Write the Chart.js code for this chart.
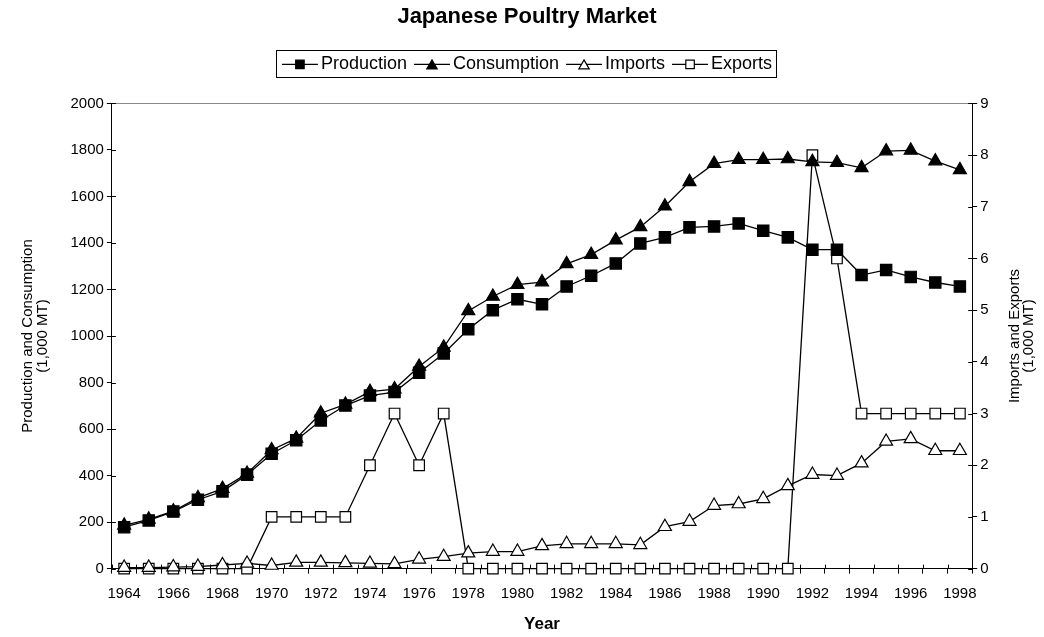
<!DOCTYPE html>
<html>
<head>
<meta charset="utf-8">
<script src="https://cdn.jsdelivr.net/npm/chart.js@4.4.1/dist/chart.umd.min.js"></script>
<style>
  html, body { margin: 0; padding: 0; background: #fff; }
  #wrap { width: 1044px; height: 637px; }
</style>
</head>
<body>
<div id="wrap"><canvas id="chart"></canvas></div>
<script>
const years = ["1964","1965","1966","1967","1968","1969","1970","1971","1972","1973",
  "1974","1975","1976","1977","1978","1979","1980","1981","1982","1983","1984","1985",
  "1986","1987","1988","1989","1990","1991","1992","1993","1994","1995","1996","1997","1998"];

// 1,000 MT, left axis
const production = [178,207,245,296,332,404,494,552,637,701,744,759,842,925,1029,1111,
  1158,1136,1213,1259,1312,1398,1424,1467,1471,1484,1453,1424,1371,1371,1262,1284,1254,1230,1213];
const consumption = [186,212,247,304,344,409,510,560,668,706,761,772,869,951,1108,1170,
  1221,1232,1310,1350,1412,1469,1558,1663,1741,1758,1758,1761,1749,1745,1723,1795,1798,1752,1714];

// 1,000 MT, right axis
const imports = [0.02,0.02,0.03,0.04,0.07,0.1,0.06,0.12,0.12,0.11,0.1,0.09,0.18,0.23,0.3,0.33,
  0.33,0.44,0.48,0.48,0.48,0.46,0.81,0.91,1.22,1.25,1.35,1.6,1.82,1.8,2.04,2.46,2.51,2.28,2.28];
const exports = [0,0,0,0,0,0,1,1,1,1,2,3,2,3,0,0,0,0,0,0,0,0,0,0,0,0,0,0,8,6,3,3,3,3,3];

const leftAxis = { min: 0, max: 2000, step: 200 };
const rightAxis = { min: 0, max: 9, step: 1 };
const leftTitle = ["Production and Consumption", "(1,000 MT)"];
const rightTitle = ["Imports and Exports", "(1,000 MT)"];

const FONT = '"Liberation Sans", Arial, sans-serif';
const axisTitleFont = { family: FONT, size: 15, lineHeight: 0.95 };

function marker(ctx, style, filled, x, y, r) {
  ctx.beginPath();
  if (style === "rect") {
    const s = Math.SQRT1_2 * r;
    ctx.rect(x - s, y - s, 2 * s, 2 * s);
  } else {
    ctx.moveTo(x, y - r);
    ctx.lineTo(x + Math.sin(2 * Math.PI / 3) * r, y + r / 2);
    ctx.lineTo(x - Math.sin(2 * Math.PI / 3) * r, y + r / 2);
    ctx.closePath();
  }
  ctx.fillStyle = filled ? "#000" : "#fff";
  ctx.fill();
  ctx.lineWidth = 1.2;
  ctx.strokeStyle = "#000";
  ctx.stroke();
}

const extras = {
  id: "extras",
  beforeLayout(chart) {
    const lg = chart.legend;
    if (lg && !lg._patched) {
      const fit = lg.fit;
      lg.fit = function () { fit.call(this); this.height += 20; };
      lg._patched = true;
    }
  },
  afterDraw(chart) {
    const ctx = chart.ctx;
    const area = chart.chartArea;
    ctx.save();
    ctx.strokeStyle = "#000";
    ctx.lineWidth = 1;
    // inner half of the cross tick marks
    const x = chart.scales.x;
    const step = x.getPixelForValue(1) - x.getPixelForValue(0);
    for (let i = 0; i <= years.length; i++) {
      const px = Math.round(x.getPixelForValue(i) - step / 2) + 0.5;
      ctx.beginPath(); ctx.moveTo(px, area.bottom); ctx.lineTo(px, area.bottom - 4); ctx.stroke();
    }
    chart.scales.y.ticks.forEach((t, i) => {
      const py = Math.round(chart.scales.y.getPixelForTick(i)) + 0.5;
      ctx.beginPath(); ctx.moveTo(area.left, py); ctx.lineTo(area.left + 4, py); ctx.stroke();
    });
    chart.scales.y2.ticks.forEach((t, i) => {
      const py = Math.round(chart.scales.y2.getPixelForTick(i)) + 0.5;
      ctx.beginPath(); ctx.moveTo(area.right, py); ctx.lineTo(area.right - 4, py); ctx.stroke();
    });

    const lg = chart.legend;
    const boxes = lg.legendHitBoxes;
    if (boxes && boxes.length) {
      // legend frame
      let l = Infinity, r = -Infinity, t = Infinity, b = -Infinity;
      boxes.forEach(h => {
        l = Math.min(l, h.left); r = Math.max(r, h.left + h.width);
        t = Math.min(t, h.top); b = Math.max(b, h.top + h.height);
      });
      ctx.strokeRect(Math.round(l - 6) + 0.5, Math.round(t - 5) + 0.5, Math.round(r - l + 10), Math.round(b - t + 9));
      // line + marker samples
      boxes.forEach((h, i) => {
        const ds = chart.data.datasets[i];
        const cy = h.top + h.height / 2;
        const bw = lg.options.labels.boxWidth;
        ctx.beginPath();
        ctx.moveTo(h.left, cy);
        ctx.lineTo(h.left + bw + 6, cy);
        ctx.lineWidth = 1.3;
        ctx.strokeStyle = "#000";
        ctx.stroke();
        marker(ctx, ds.pointStyle, ds.pointBackgroundColor === "#000", h.left + bw / 2 + 3, cy + (ds.pointStyle === "triangle" ? 1.5 : 0), 6);
      });
    }
    ctx.restore();

    // right axis title, reading bottom to top
    const s = chart.scales.y2;
    const lh = axisTitleFont.size * axisTitleFont.lineHeight;
    const cy = (area.top + area.bottom) / 2;
    ctx.save();
    ctx.font = axisTitleFont.size + "px " + FONT;
    ctx.fillStyle = "#000";
    ctx.textAlign = "center";
    ctx.textBaseline = "middle";
    rightTitle.forEach((line, i) => {
      const tx = s.right - 6 - lh * (rightTitle.length - 1 - i) - lh / 2;
      ctx.save();
      ctx.translate(tx, cy);
      ctx.rotate(-Math.PI / 2);
      ctx.fillText(line, 0, 0);
      ctx.restore();
    });
    ctx.restore();
  }
};

function series(label, data, axis, style, filled, r) {
  return {
    label: label,
    data: data,
    yAxisID: axis,
    borderColor: "#000",
    borderWidth: 1.3,
    pointStyle: style,
    pointRadius: r,
    pointHoverRadius: r,
    pointBorderWidth: 1.2,
    pointBorderColor: "#000",
    pointBackgroundColor: filled ? "#000" : "#fff",
    tension: 0,
    clip: false,
    fill: false
  };
}

new Chart(document.getElementById("chart"), {
  type: "line",
  data: {
    labels: years,
    datasets: [
      series("Production", production, "y", "rect", true, 8),
      series("Consumption", consumption, "y", "triangle", true, 7.5),
      series("Imports", imports, "y2", "triangle", false, 7.5),
      series("Exports", exports, "y2", "rect", false, 7.5)
    ]
  },
  options: {
    responsive: true,
    maintainAspectRatio: false,
    animation: false,
    devicePixelRatio: 1,
    layout: { padding: { left: 12, right: 2, top: 0, bottom: 2 } },
    plugins: {
      title: {
        display: true,
        text: "Japanese Poultry Market",
        color: "#000",
        font: { family: FONT, size: 22, weight: "bold" },
        padding: { top: 4, bottom: 18 }
      },
      legend: {
        display: true,
        labels: {
          color: "#000",
          font: { family: FONT, size: 18 },
          boxWidth: 30,
          boxHeight: 12,
          padding: 7,
          generateLabels(chart) {
            return chart.data.datasets.map((ds, i) => ({
              text: ds.label,
              fillStyle: "rgba(0,0,0,0)",
              strokeStyle: "rgba(0,0,0,0)",
              lineWidth: 0,
              hidden: false,
              datasetIndex: i
            }));
          }
        }
      },
      tooltip: { enabled: false }
    },
    scales: {
      x: {
        type: "category",
        offset: true,
        title: {
          display: true,
          text: "Year",
          color: "#000",
          font: { family: FONT, size: 17, weight: "bold" },
          padding: { top: 1, bottom: 0 }
        },
        grid: {
          display: true,
          offset: true,
          drawOnChartArea: false,
          color: "#000",
          tickLength: 5
        },
        border: { display: true, color: "#000", width: 1 },
        ticks: {
          color: "#000",
          font: { family: FONT, size: 15 },
          autoSkip: false,
          maxRotation: 0,
          minRotation: 0,
          padding: 11,
          callback: function (v, i) { return i % 2 === 0 ? this.getLabelForValue(v) : ""; }
        }
      },
      y: {
        position: "left",
        min: leftAxis.min,
        max: leftAxis.max,
        title: {
          display: true,
          text: leftTitle,
          color: "#000",
          font: axisTitleFont,
          padding: { top: 9, bottom: 18 }
        },
        grid: {
          drawOnChartArea: true,
          color: ctx => (ctx.tick && ctx.tick.value === leftAxis.max ? "#888" : "rgba(0,0,0,0)"),
          tickColor: "#000",
          tickLength: 5
        },
        border: { display: true, color: "#000", width: 1 },
        ticks: {
          stepSize: leftAxis.step,
          color: "#000",
          font: { family: FONT, size: 15 },
          padding: 3,
          callback: v => String(v)
        }
      },
      y2: {
        position: "right",
        min: rightAxis.min,
        max: rightAxis.max,
        title: {
          display: true,
          text: rightTitle,
          color: "rgba(0,0,0,0)",
          font: axisTitleFont,
          padding: { top: 16, bottom: 6 }
        },
        grid: {
          drawOnChartArea: false,
          tickColor: "#000",
          tickLength: 5
        },
        border: { display: true, color: "#000", width: 1 },
        ticks: {
          stepSize: rightAxis.step,
          color: "#000",
          font: { family: FONT, size: 15 },
          padding: 3
        }
      }
    }
  },
  plugins: [extras]
});
</script>
</body>
</html>
